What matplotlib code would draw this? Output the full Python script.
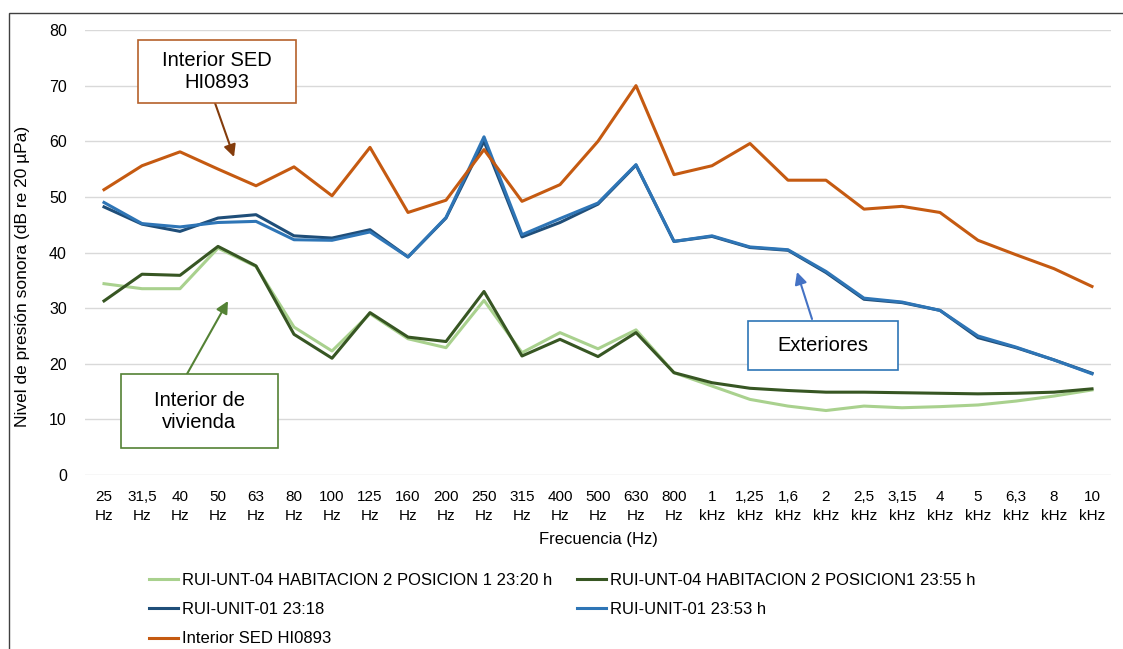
import matplotlib
matplotlib.use("Agg")
import matplotlib.pyplot as plt

plt.rcParams['font.family'] = ['Liberation Sans', 'DejaVu Sans']

bands = ["25\nHz", "31,5\nHz", "40\nHz", "50\nHz", "63\nHz", "80\nHz", "100\nHz",
         "125\nHz", "160\nHz", "200\nHz", "250\nHz", "315\nHz", "400\nHz", "500\nHz",
         "630\nHz", "800\nHz", "1\nkHz", "1,25\nkHz", "1,6\nkHz", "2\nkHz", "2,5\nkHz",
         "3,15\nkHz", "4\nkHz", "5\nkHz", "6,3\nkHz", "8\nkHz", "10\nkHz"]

hab_2320 = [34.4, 33.5, 33.5, 40.8, 37.5, 26.6, 22.3, 29.0, 24.5, 22.9, 31.4, 22.0, 25.6,
            22.7, 26.1, 18.4, 16.0, 13.6, 12.4, 11.6, 12.4, 12.1, 12.3, 12.6, 13.3, 14.2, 15.3]
hab_2355 = [31.3, 36.1, 35.9, 41.1, 37.6, 25.3, 21.0, 29.2, 24.8, 24.0, 33.0, 21.4, 24.4,
            21.3, 25.6, 18.4, 16.6, 15.6, 15.2, 14.9, 14.9, 14.8, 14.7, 14.6, 14.7, 14.9, 15.5]
unit_2318 = [48.2, 45.1, 43.8, 46.2, 46.8, 43.0, 42.6, 44.1, 39.2, 46.2, 60.0, 42.8, 45.4,
             48.7, 55.7, 42.0, 42.9, 40.9, 40.4, 36.4, 31.6, 31.0, 29.6, 24.7, 22.9, 20.7, 18.3]
unit_2353 = [49.0, 45.2, 44.6, 45.4, 45.6, 42.3, 42.2, 43.7, 39.2, 46.3, 60.8, 43.2, 46.1,
             48.9, 55.8, 42.0, 43.0, 41.0, 40.5, 36.6, 31.8, 31.1, 29.6, 25.0, 23.0, 20.7, 18.2]
sed = [51.3, 55.6, 58.1, 55.0, 52.0, 55.4, 50.2, 58.9, 47.2, 49.4, 58.5, 49.2, 52.2,
       60.0, 70.0, 54.0, 55.6, 59.6, 53.0, 53.0, 47.8, 48.3, 47.2, 42.2, 39.6, 37.1, 33.9]

x = list(range(len(bands)))

fig = plt.figure(figsize=(11.23, 6.49), dpi=100)
ax = fig.add_axes([0.0757, 0.268, 0.9136, 0.6858])

lw = 2.2
l1, = ax.plot(x, hab_2320, color='#A9D18E', lw=lw, label='RUI-UNT-04 HABITACION 2 POSICION 1 23:20 h')
l2, = ax.plot(x, hab_2355, color='#375623', lw=lw, label='RUI-UNT-04 HABITACION 2 POSICION1 23:55 h')
l3, = ax.plot(x, unit_2318, color='#1F4E79', lw=lw, label='RUI-UNIT-01 23:18')
l4, = ax.plot(x, unit_2353, color='#2E75B6', lw=lw, label='RUI-UNIT-01 23:53 h')
l5, = ax.plot(x, sed, color='#C55A11', lw=lw, label='Interior SED HI0893')

ax.set_xlim(-0.5, len(bands) - 0.5)
ax.set_ylim(0, 80)
ax.set_yticks(range(0, 81, 10))
ax.set_xticks(x)
ax.set_xticklabels(bands, fontsize=11, linespacing=1.4)
ax.tick_params(axis='y', labelsize=11.5, length=0, pad=13)
ax.tick_params(axis='x', length=0, pad=11)
ax.grid(axis='y', color='#D9D9D9', lw=1)
ax.set_axisbelow(True)
for s in ax.spines.values():
    s.set_visible(False)

ax.set_xlabel('Frecuencia (Hz)', fontsize=12, labelpad=7)
ax.set_ylabel('Nivel de presión sonora (dB re 20 µPa)', fontsize=12.5)
ax.yaxis.set_label_coords(-0.0536, 0.447)

# callout boxes
def callout(text, xy_box, xy_tip, xy_tail, edge, arrow_col):
    ax.annotate('', xy=xy_tip, xytext=xy_tail, xycoords='figure pixels',
                textcoords='figure pixels',
                arrowprops=dict(arrowstyle='-|>', color=arrow_col, lw=1.5,
                                mutation_scale=18, shrinkA=0, shrinkB=0))
    x0, y0, w, h = xy_box
    fig.patches.append(plt.Rectangle((x0, y0), w, h, transform=None, fill=True,
                                     facecolor='white', edgecolor=edge, lw=1.2, zorder=5))
    fig.text((x0 + w / 2) / fig.bbox.width, (y0 + h / 2) / fig.bbox.height, text,
             ha='center', va='center', fontsize=14.5, linespacing=1.2, zorder=6)

H = 649
callout('Interior SED\nHI0893', (138, H - 103, 158, 63), (234, H - 157), (215, H - 103),
        '#B5612B', '#843C0C')
callout('Interior de\nvivienda', (121, H - 448, 157, 74), (228, H - 301), (187, H - 374),
        '#548235', '#548235')
callout('Exteriores', (748, H - 370, 150, 49), (797, H - 272), (812, H - 319),
        '#2E75B6', '#4472C4')

# legend laid out row by row, two columns
leg_kw = dict(loc='upper left', frameon=False, fontsize=12, handlelength=1.75,
              handletextpad=0.2, labelspacing=0.85, borderaxespad=0, borderpad=0)
col1 = [l1, l3, l5]
col2 = [l2, l4]
fig.legend(col1, [h.get_label() for h in col1],
           bbox_to_anchor=(149 / 1123, 1 - 573 / 649), **leg_kw)
fig.legend(col2, [h.get_label() for h in col2],
           bbox_to_anchor=(577 / 1123, 1 - 573 / 649), **leg_kw)

fig.patches.append(plt.Rectangle((8.5, -10), 1200, 649 - 12.5 + 10, transform=None,
                                 fill=False, edgecolor='#404040', lw=1))

fig.savefig('out.png', dpi=100)
